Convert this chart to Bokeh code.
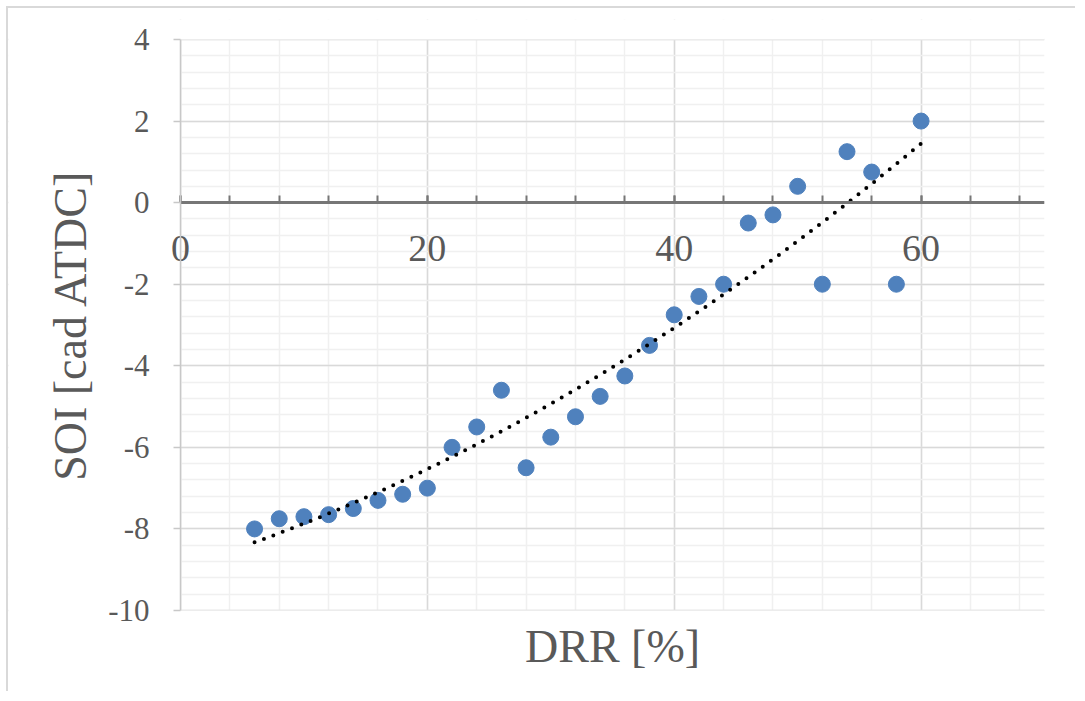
import numpy as np
from bokeh.plotting import figure
from bokeh.models import Range1d, SingleIntervalTicker, BoxAnnotation, Label
from bokeh.embed import file_html
from bokeh.resources import INLINE

# ---- data ----
drr = [6, 8, 10, 12, 14, 16, 18, 20, 22, 24, 26, 28, 30, 32, 34, 36, 38, 40,
       42, 44, 46, 48, 50, 52, 54, 56, 58, 60]
soi = [-8.0, -7.75, -7.7, -7.65, -7.5, -7.3, -7.15, -7.0, -6.0, -5.5, -4.6, -6.5,
       -5.75, -5.25, -4.75, -4.25, -3.5, -2.75, -2.3, -2.0, -0.5, -0.3, 0.4, -2.0,
       1.25, 0.75, -2.0, 2.0]
y_ticks = [4, 2, 0, -2, -4, -6, -8, -10]
x_min, x_max = 0, 70
y_min, y_max = -10, 4
x_label = "DRR [%]"
y_label = "SOI [cad ATDC]"

# polynomial (order 2) trendline fitted to the data
coef = np.polyfit(drr, soi, 2)
trend_x = np.linspace(min(drr), max(drr), 300)
trend_y = np.polyval(coef, trend_x)

FONT = "Liberation Serif"
TXT = "#595959"

# layout: the plotting frame covers the margins too, so that the crossing axes
# and their labels are never clipped; the margins are masked in white
W, H = 1069, 685
TOP_BORDER, RIGHT_BORDER = 11, 33
LEFT_PAD, TOP_PAD = 172, 20          # px from frame edge to x=0 / y=4
DATA_W, DATA_H = 864, 571            # px of the 0..70 x -10..4 area
BOTTOM_PAD = H - TOP_BORDER - TOP_PAD - DATA_H
x_start = x_min - (x_max - x_min) * LEFT_PAD / DATA_W
y_end = y_max + (y_max - y_min) * TOP_PAD / DATA_H
y_start = y_min - (y_max - y_min) * BOTTOM_PAD / DATA_H

p = figure(width=W, height=H, x_range=Range1d(x_start, x_max),
           y_range=Range1d(y_start, y_end),
           output_backend="svg", toolbar_location=None,
           min_border_left=0, min_border_right=RIGHT_BORDER,
           min_border_top=TOP_BORDER, min_border_bottom=0)
p.outline_line_color = None
p.background_fill_color = "white"
p.border_fill_color = "white"
p.styles = {"margin": "6px 0 0 6px", "border-left": "2px solid #d9d9d9",
            "border-top": "2px solid #d9d9d9"}

# grids
p.xgrid.ticker = SingleIntervalTicker(interval=20, num_minor_ticks=5)
p.ygrid.ticker = SingleIntervalTicker(interval=2, num_minor_ticks=5)
for g in (p.xgrid, p.ygrid):
    g.grid_line_color = "#d9d9d9"
    g.grid_line_width = 1.5
    g.minor_grid_line_color = "#f0f0f0"
    g.minor_grid_line_width = 1.5

# white masks over the margins (hide grid lines outside the data area)
for kw in (dict(right=x_min), dict(top=y_min), dict(bottom=y_max)):
    p.add_layout(BoxAnnotation(fill_color="white", fill_alpha=1.0, line_alpha=0,
                               level="glyph", **kw))

# y axis at x = 0
ya = p.yaxis[0]
ya.fixed_location = x_min
ya.bounds = (y_min, y_max)
ya.ticker = SingleIntervalTicker(interval=2, num_minor_ticks=5)
ya.major_label_overrides = {t: str(t) for t in y_ticks}
ya.axis_line_color = "#c8c8c8"
ya.axis_line_width = 1.5
ya.major_tick_line_color = "#c8c8c8"
ya.major_tick_line_width = 1.5
ya.major_tick_in = 0
ya.major_tick_out = 7
ya.minor_tick_line_color = None
ya.major_label_text_font = FONT
ya.major_label_text_font_size = "31px"
ya.major_label_text_color = TXT
ya.major_label_standoff = 24
ya.axis_label = y_label
ya.axis_label_text_font = FONT
ya.axis_label_text_font_size = "46px"
ya.axis_label_text_font_style = "normal"
ya.axis_label_text_color = TXT
ya.axis_label_standoff = 9

# x axis crossing at y = 0
xa = p.xaxis[0]
xa.fixed_location = 0
xa.bounds = (x_min, x_max)
xa.ticker = SingleIntervalTicker(interval=20, num_minor_ticks=5)
xa.axis_line_color = "#767676"
xa.axis_line_width = 3
xa.major_tick_line_color = "#767676"
xa.major_tick_line_width = 2
xa.major_tick_in = 7
xa.major_tick_out = 0
xa.minor_tick_line_color = "#767676"
xa.minor_tick_line_width = 2
xa.minor_tick_in = 7
xa.minor_tick_out = 0
xa.major_label_text_font = FONT
xa.major_label_text_font_size = "38px"
xa.major_label_text_color = TXT
xa.major_label_standoff = 33

# x axis title, centred under the data area
p.add_layout(Label(x=(x_min + x_max) / 2, y=y_min, y_offset=-36, text=x_label,
                   text_font=FONT, text_font_size="46px", text_color=TXT,
                   text_align="center", text_baseline="alphabetic", level="overlay"))

p.scatter(drr, soi, size=16, fill_color="#4f81bd", line_color="#4f81bd")
p.line(trend_x, trend_y, line_color="black", line_width=4, line_dash="0 10", line_cap="round")

open("out.html", "w").write(file_html(p, INLINE))
